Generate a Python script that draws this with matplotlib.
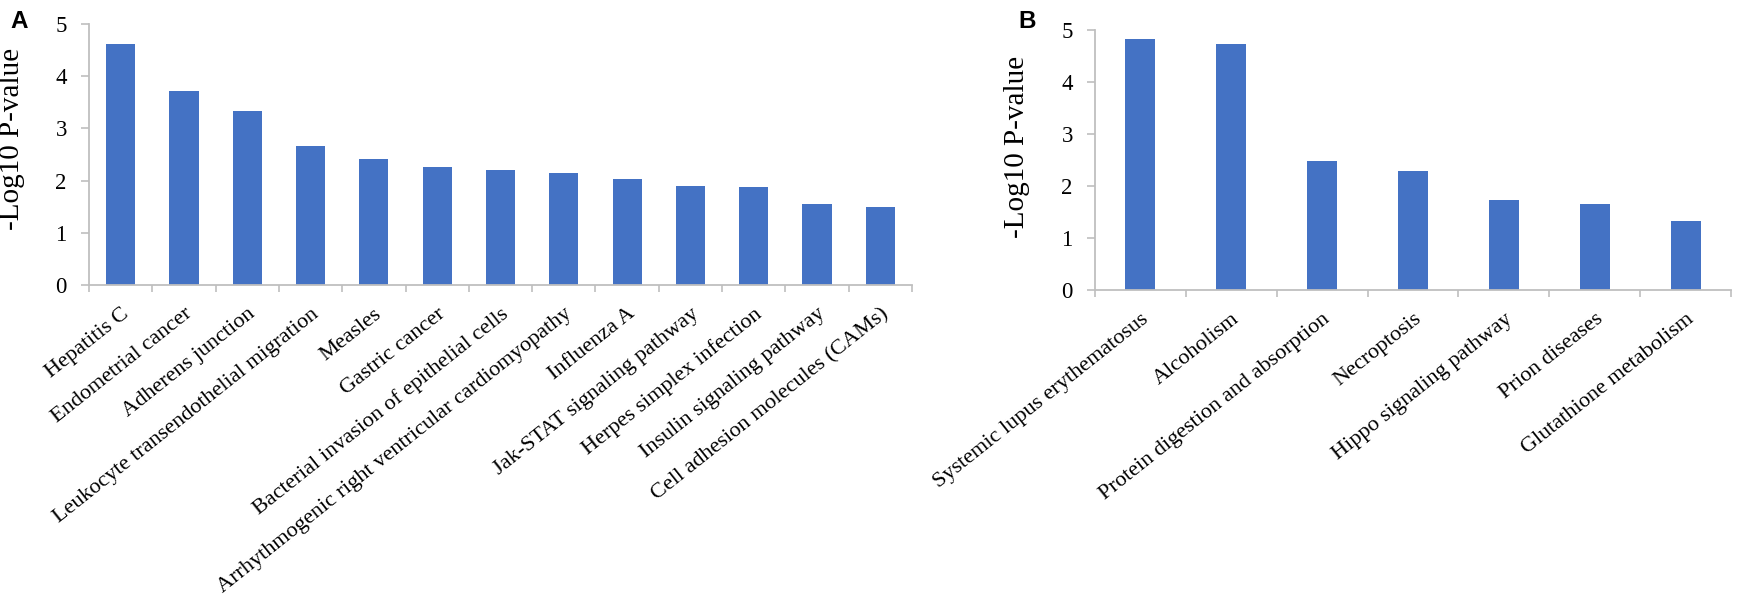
import matplotlib
matplotlib.use("Agg")
import matplotlib.pyplot as plt
from matplotlib.ticker import FixedLocator, NullFormatter
from matplotlib.transforms import ScaledTranslation

plt.rcParams["font.family"] = ["Liberation Serif", "DejaVu Serif"]

# panel A: KEGG pathways
paths_a = [
    "Hepatitis C",
    "Endometrial cancer",
    "Adherens junction",
    "Leukocyte transendothelial migration",
    "Measles",
    "Gastric cancer",
    "Bacterial invasion of epithelial cells",
    "Arrhythmogenic right ventricular cardiomyopathy",
    "Influenza A",
    "Jak-STAT signaling pathway",
    "Herpes simplex infection",
    "Insulin signaling pathway",
    "Cell adhesion molecules (CAMs)",
]
logp_a = [4.62, 3.71, 3.33, 2.67, 2.41, 2.27, 2.20, 2.15, 2.04, 1.89, 1.87, 1.56, 1.49]

# panel B
paths_b = [
    "Systemic lupus erythematosus",
    "Alcoholism",
    "Protein digestion and absorption",
    "Necroptosis",
    "Hippo signaling pathway",
    "Prion diseases",
    "Glutathione metabolism",
]
logp_b = [4.83, 4.74, 2.49, 2.29, 1.74, 1.66, 1.33]

yticks = [0, 1, 2, 3, 4, 5]

BAR = "#4472c4"
AXIS = "#bfbfbf"

W, H = 1745, 606
fig = plt.figure(figsize=(W / 100, H / 100), dpi=100)


def px_axes(left, right, y0, y5):
    return fig.add_axes([left / W, 1 - y0 / H, (right - left) / W, (y0 - y5) / H])


def draw_panel(ax, names, values, width, label_xy):
    n = len(names)
    centers = [i + 0.5 for i in range(n)]
    ax.bar(centers, values, width=width, color=BAR, zorder=2)
    ax.set_xlim(0, n)
    ax.set_ylim(0, 5)
    ax.set_yticks(yticks)
    ax.set_xticks(centers)
    ax.set_xticklabels(names, rotation=38.5, ha="right", va="top",
                       rotation_mode="anchor", fontsize=16)
    shift = ScaledTranslation(4 / 100, 0, fig.dpi_scale_trans)
    for lab in ax.get_xticklabels():
        lab.set_transform(lab.get_transform() + shift)
    ax.xaxis.set_minor_locator(FixedLocator(list(range(n + 1))))
    ax.xaxis.set_minor_formatter(NullFormatter())
    ax.tick_params(axis="x", which="major", length=0, pad=14)
    ax.tick_params(axis="x", which="minor", length=5, width=1.2, color=AXIS, direction="out")
    ax.tick_params(axis="y", length=6, width=1.2, color=AXIS, labelsize=16.5, pad=10)
    for side in ("top", "right"):
        ax.spines[side].set_visible(False)
    for side in ("left", "bottom"):
        ax.spines[side].set_color(AXIS)
        ax.spines[side].set_linewidth(1.3)
    ax.set_ylabel("-Log10 P-value", fontsize=21)
    ax.yaxis.set_label_coords(*label_xy)


ax_a = px_axes(89, 912, 285, 24)
draw_panel(ax_a, paths_a, logp_a, 0.46, (-0.078, 0.56))

ax_b = px_axes(1095, 1731, 290, 30)
draw_panel(ax_b, paths_b, logp_b, 0.33, (-0.102, 0.55))

fig.text(10 / W, 1 - 22 / H, "A", fontsize=17.5, fontweight="bold",
         family=["Liberation Sans", "DejaVu Sans"], va="center", ha="left")
fig.text(1018 / W, 1 - 22 / H, "B", fontsize=17.5, fontweight="bold",
         family=["Liberation Sans", "DejaVu Sans"], va="center", ha="left")

fig.savefig("out.png", dpi=100, facecolor="white")
plt.close(fig)
